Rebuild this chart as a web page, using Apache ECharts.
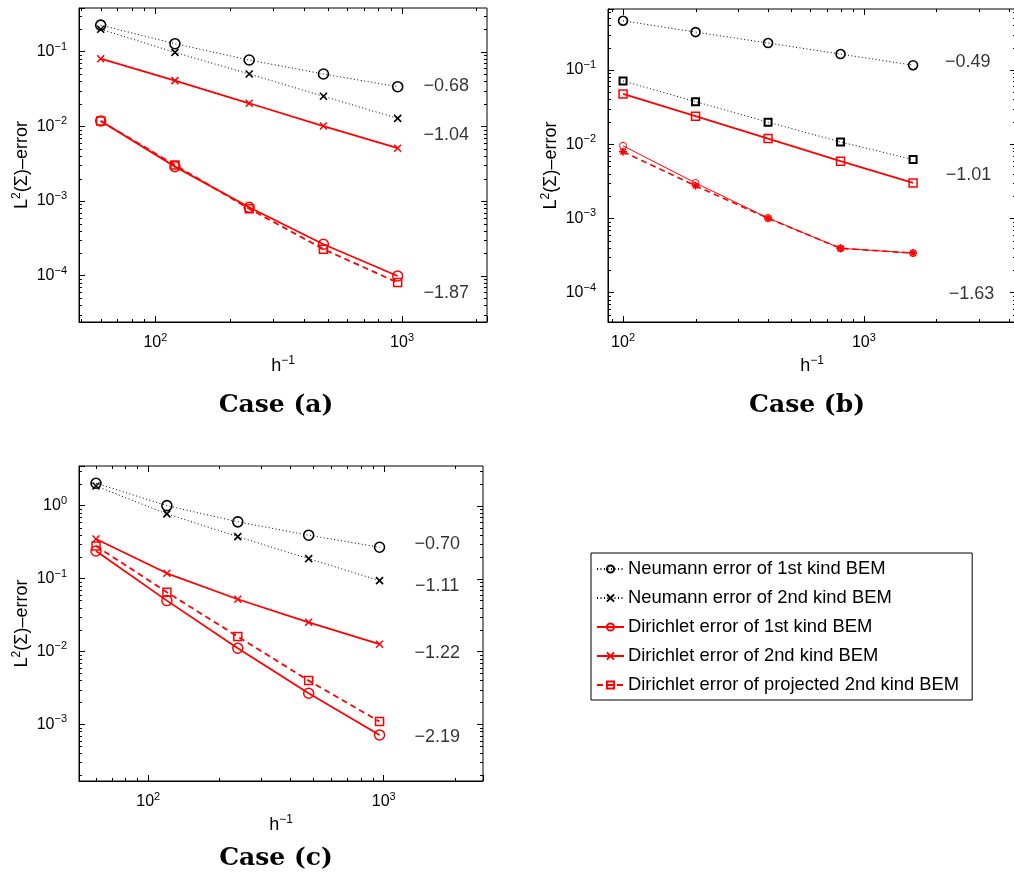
<!DOCTYPE html>
<html>
<head>
<meta charset="utf-8">
<script src="https://cdn.jsdelivr.net/npm/echarts@6/dist/echarts.min.js"></script>
<style>
  html, body { margin: 0; background: #fff; }
  #chart { width: 1014px; height: 877px; }
</style>
</head>
<body>
<div id="chart"></div>
<script>
// mesh refinement h^-1
const hInvAC = [60, 120, 240, 480, 960];
const hInvB = [100, 200, 400, 800, 1600];

// Case (a)
const aNeu1 = [0.227, 0.128, 0.0774, 0.0503, 0.034];
const aNeu2 = [0.2, 0.098, 0.0503, 0.0253, 0.0128];
const aDir1 = [0.0118, 0.00289, 8.26e-4, 2.64e-4, 9.9e-5];
const aDir2 = [0.0806, 0.041, 0.0204, 0.0101, 0.0051];
const aDirP = [0.0118, 0.00304, 7.9e-4, 2.27e-4, 8.1e-5];
const aSlopes = ['\u22120.68', '\u22121.04', '\u22121.87'];

// Case (b)
const bNeu1 = [0.461, 0.324, 0.231, 0.164, 0.116];
const bNeu2 = [0.0711, 0.0374, 0.0198, 0.0107, 0.0062];
const bDir1 = [0.0095, 0.003, 0.00101, 3.94e-4, 3.4e-4];
const bDir2 = [0.0475, 0.0238, 0.0119, 0.0059, 0.003];
const bDirP = [0.0079, 0.00275, 0.001, 3.94e-4, 3.4e-4];
const bSlopes = ['\u22120.49', '\u22121.01', '\u22121.63'];

// Case (c)
const cNeu1 = [2.03, 1.0, 0.60, 0.393, 0.269];
const cNeu2 = [1.86, 0.77, 0.376, 0.1875, 0.0936];
const cDir1 = [0.239, 0.0498, 0.0111, 0.00267, 7.16e-4];
const cDir2 = [0.349, 0.118, 0.052, 0.0251, 0.01256];
const cDirP = [0.28, 0.0649, 0.016, 0.00398, 0.00109];
const cSlopes = ['\u22120.70', '\u22121.11', '\u22121.22', '\u22122.19'];

const legendNames = [
  'Neumann error of 1st kind BEM',
  'Neumann error of 2nd kind BEM',
  'Dirichlet error of 1st kind BEM',
  'Dirichlet error of 2nd kind BEM',
  'Dirichlet error of projected 2nd kind BEM'
];
const caseTitles = ['Case (a)', 'Case (b)', 'Case (c)'];
const minorSteps = [2, 3, 4, 5, 6, 7, 8, 9];

// where the slope texts sit (data coordinates of each panel)
const aSlopeAt = [[1510, 0.0347], [1510, 0.00767], [1510, 5.86e-5]];
const bSlopeAt = [[2700, 0.129], [2720, 0.00385], [2800, 9.6e-5]];
const cSlopeAt = [[1687, 0.295], [1687, 0.079], [1687, 0.0096], [1687, 6.6e-4]];

const F = '"Liberation Sans", Arial, Helvetica, sans-serif';
const RED = '#ff0000';
const BLACK = '#000000';

const panels = [
  { grid: { left: 79, top: 8, width: 408, height: 314 }, x: [49, 2210], y: [2.4e-5, 0.385] },
  { grid: { left: 608, top: 9, width: 408, height: 313 }, x: [86.6, 4280], y: [4.0e-5, 0.664] },
  { grid: { left: 79, top: 466, width: 404, height: 315 }, x: [50.8, 2640], y: [1.67e-4, 3.5] }
];
const titlePos = [[276, 405], [807, 405], [276, 858]];

const symbols = {
  circle: 'circle',
  square: 'rect',
  cross: 'path://M0,0L10,10M10,0L0,10',
  star: 'path://M5,0L5,10M0,5L10,5M1.5,1.5L8.5,8.5M8.5,1.5L1.5,8.5'
};
const DOT = [1, 2.5];
const DASH = [6, 4];

function lineSeries(name, idx, xs, ys, st) {
  return {
    name, type: 'line', xAxisIndex: idx, yAxisIndex: idx,
    data: xs.map((x, i) => [x, ys[i]]),
    symbol: symbols[st.marker], symbolSize: st.size,
    lineStyle: { color: st.color, width: st.width, type: st.dash },
    itemStyle: { color: 'rgba(0,0,0,0)', borderColor: st.color, borderWidth: st.mw || 1.4 },
    emphasis: { disabled: true },
    z: 3
  };
}

const neu1 = { marker: 'circle', size: 10, color: BLACK, width: 1, dash: DOT, mw: 1.6 };
const neu2x = { marker: 'cross', size: 7, color: BLACK, width: 1, dash: DOT, mw: 1.6 };
const dir1 = { marker: 'circle', size: 10, color: RED, width: 1.8, dash: 'solid', mw: 1.5 };
const dir2x = { marker: 'cross', size: 7, color: RED, width: 1.8, dash: 'solid', mw: 1.5 };
const dirPs = { marker: 'square', size: 8, color: RED, width: 1.8, dash: DASH, mw: 1.5 };

const supRich = {
  b: { fontSize: 16, fontFamily: F, color: '#000' },
  s: { fontSize: 11, fontFamily: F, color: '#000', padding: [0, 0, 10, 0] }
};
const nameRich = {
  b: { fontSize: 18, fontFamily: F, color: '#000' },
  s: { fontSize: 12, fontFamily: F, color: '#000', padding: [0, 0, 10, 0] }
};

function powLabel(v) {
  const e = Math.log10(v);
  const r = Math.round(e);
  if (Math.abs(e - r) > 1e-6) return '';
  return '{b|10}{s|' + (r < 0 ? '\u2212' + (-r) : r) + '}';
}

function logTicks(min, max) {
  const major = [], minor = [];
  for (let e = Math.floor(Math.log10(min)); e <= Math.ceil(Math.log10(max)); e++) {
    const base = Math.pow(10, e);
    if (base > min && base < max) major.push(base);
    minorSteps.forEach(k => {
      const v = k * base;
      if (v > min && v < max) minor.push(v);
    });
  }
  return { major, minor };
}

// minor ticks on all sides, major ticks on top and right
function frameTicks(i, p) {
  const xt = logTicks(p.x[0], p.x[1]);
  const yt = logTicks(p.y[0], p.y[1]);
  const data = [];
  yt.minor.forEach(v => data.push([p.x[0], v, 0]));
  yt.major.forEach(v => data.push([p.x[0], v, 1]));
  xt.minor.forEach(v => data.push([v, p.y[0], 2]));
  xt.major.forEach(v => data.push([v, p.y[0], 3]));
  return {
    type: 'custom', xAxisIndex: i, yAxisIndex: i, silent: true, z: 2,
    data,
    renderItem(params, api) {
      const cs = params.coordSys;
      const pt = api.coord([api.value(0), api.value(1)]);
      const kind = api.value(2);
      const st = { stroke: '#000', lineWidth: 1 };
      const ch = [];
      const len = (kind === 0 || kind === 2) ? 3 : 6;
      if (kind < 2) {
        const y = Math.round(pt[1]) + 0.5;
        if (kind === 0) ch.push({ type: 'line', shape: { x1: cs.x, y1: y, x2: cs.x + len, y2: y }, style: st });
        ch.push({ type: 'line', shape: { x1: cs.x + cs.width, y1: y, x2: cs.x + cs.width - len, y2: y }, style: st });
      } else {
        const x = Math.round(pt[0]) + 0.5;
        if (kind === 2) ch.push({ type: 'line', shape: { x1: x, y1: cs.y + cs.height, x2: x, y2: cs.y + cs.height - len }, style: st });
        ch.push({ type: 'line', shape: { x1: x, y1: cs.y, x2: x, y2: cs.y + len }, style: st });
      }
      return { type: 'group', children: ch };
    }
  };
}

function slopeSeries(i, at, texts) {
  return {
    type: 'scatter', xAxisIndex: i, yAxisIndex: i, silent: true,
    data: at, symbolSize: 1, itemStyle: { color: 'rgba(0,0,0,0)' },
    label: {
      show: true, position: 'inside', color: '#000', fontSize: 18, fontFamily: F,
      formatter: p => texts[p.dataIndex]
    },
    emphasis: { disabled: true }
  };
}

const series = [
  // (c) first, it carries the legend
  lineSeries(legendNames[0], 2, hInvAC, cNeu1, neu1),
  lineSeries(legendNames[1], 2, hInvAC, cNeu2, neu2x),
  lineSeries(legendNames[2], 2, hInvAC, cDir1, dir1),
  lineSeries(legendNames[3], 2, hInvAC, cDir2, dir2x),
  lineSeries(legendNames[4], 2, hInvAC, cDirP, dirPs),

  lineSeries('a1', 0, hInvAC, aNeu1, neu1),
  lineSeries('a2', 0, hInvAC, aNeu2, neu2x),
  lineSeries('a3', 0, hInvAC, aDir1, dir1),
  lineSeries('a4', 0, hInvAC, aDir2, dir2x),
  lineSeries('a5', 0, hInvAC, aDirP, dirPs),

  lineSeries('b1', 1, hInvB, bNeu1, { marker: 'circle', size: 9, color: BLACK, width: 1, dash: DOT, mw: 1.6 }),
  lineSeries('b2', 1, hInvB, bNeu2, { marker: 'square', size: 7, color: BLACK, width: 1, dash: DOT, mw: 2 }),
  lineSeries('b3', 1, hInvB, bDir1, { marker: 'circle', size: 7, color: RED, width: 1, dash: 'solid', mw: 1 }),
  lineSeries('b4', 1, hInvB, bDir2, { marker: 'square', size: 8, color: RED, width: 1.8, dash: 'solid', mw: 1.5 }),
  lineSeries('b5', 1, hInvB, bDirP, { marker: 'star', size: 8, color: RED, width: 1.6, dash: DASH, mw: 1.5 }),

  slopeSeries(0, aSlopeAt, aSlopes),
  slopeSeries(1, bSlopeAt, bSlopes),
  slopeSeries(2, cSlopeAt, cSlopes)
].concat(panels.map((p, i) => frameTicks(i, p)));

const option = {
  animation: false,
  backgroundColor: '#fff',
  grid: panels.map(p => Object.assign({
    show: true, borderColor: '#000', borderWidth: 1, backgroundColor: '#fff',
    containLabel: false, outerBoundsMode: 'none'
  }, p.grid)),
  xAxis: panels.map((p, i) => ({
    type: 'log', logBase: 10, gridIndex: i, min: p.x[0], max: p.x[1],
    axisLine: { show: true, onZero: false, lineStyle: { color: '#000', width: 1 } },
    axisTick: { show: true, inside: true, length: 6, lineStyle: { color: '#000', width: 1 } },
    axisLabel: { formatter: powLabel, margin: 10, rich: supRich },
    splitLine: { show: false },
    minorTick: { show: false },
    name: '{b|h}{s|\u22121}', nameLocation: 'middle', nameGap: 33,
    nameTextStyle: { rich: nameRich }
  })),
  yAxis: panels.map((p, i) => ({
    type: 'log', logBase: 10, gridIndex: i, min: p.y[0], max: p.y[1],
    axisLine: { show: true, onZero: false, lineStyle: { color: '#000', width: 1 } },
    axisTick: { show: true, inside: true, length: 6, lineStyle: { color: '#000', width: 1 } },
    axisLabel: { formatter: powLabel, margin: 12, rich: supRich },
    splitLine: { show: false },
    minorTick: { show: false },
    name: '{b|L}{s|2}{b|(\u03A3)\u2013error}', nameLocation: 'middle', nameGap: 46,
    nameTextStyle: { rich: nameRich }
  })),
  legend: {
    data: legendNames,
    orient: 'vertical',
    left: 591, top: 553,
    itemWidth: 27, itemHeight: 9, itemGap: 11,
    padding: [7, 13, 6, 5],
    borderColor: '#000', borderWidth: 1, backgroundColor: '#fff',
    selectedMode: false,
    textStyle: { fontSize: 18.4, fontFamily: F, color: '#000', padding: [0, 0, 0, -1] }
  },
  graphic: caseTitles.map((t, i) => ({
    type: 'text', x: titlePos[i][0], y: titlePos[i][1], silent: true,
    style: {
      text: t, fill: '#000', fontSize: 25, fontWeight: 'bold',
      fontFamily: '"DejaVu Serif", serif', align: 'center', verticalAlign: 'middle'
    }
  })),
  series
};

const chart = echarts.init(document.getElementById('chart'));
chart.setOption(option);
</script>
</body>
</html>
